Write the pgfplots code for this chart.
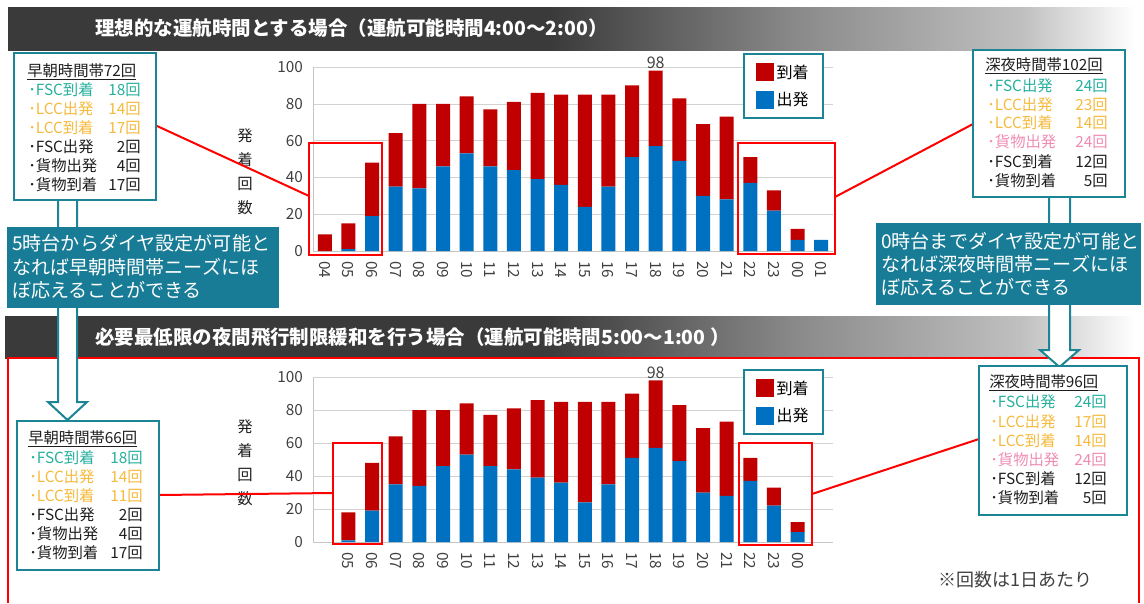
\documentclass[border=0pt]{standalone}
\usepackage{pgfplots}
\pgfplotsset{compat=1.18}
\usepackage{pgfplotstable}
\usepackage{fontspec}
\setmainfont{Noto Sans CJK JP}

\definecolor{arr}{RGB}{192,0,0}
\definecolor{dep}{RGB}{0,112,192}
\definecolor{teal1}{RGB}{27,133,150}
\definecolor{callout}{RGB}{24,124,150}
\definecolor{fsc}{RGB}{38,176,158}
\definecolor{lcc}{RGB}{246,186,60}
\definecolor{cargo}{RGB}{240,140,180}
\definecolor{txt}{RGB}{30,30,30}
\definecolor{hdrA}{RGB}{58,58,58}
\definecolor{hdrB}{RGB}{138,138,138}
\definecolor{hdrC}{RGB}{192,192,192}
\pgfdeclarehorizontalshading{hdr}{100bp}{color(0bp)=(hdrA); color(25bp)=(hdrA); color(49bp)=(hdrA); color(60bp)=(hdrB); color(70bp)=(hdrC); color(75bp)=(white); color(100bp)=(white)}

\newcommand\fs[1]{\fontsize{#1}{#1}\selectfont}
% one line of a count box: x, y, colour, label, count, right edge
\newcommand\bl[6]{%
  \node[anchor=west, text=#3, inner sep=0pt, font=\fs{11.5}] at (#1,#2) {#4};
  \node[anchor=east, text=#3, inner sep=0pt, font=\fs{11.5}] at (#6,#2) {#5};}

% hour index: 04=0, 05=1, ..., 00=20, 01=21
\pgfplotstableread{
x dep arr
0 0 9
1 1 14
2 19 29
3 35 29
4 34 46
5 46 34
6 53 31
7 46 31
8 44 37
9 39 47
10 36 49
11 24 61
12 35 50
13 51 39
14 57 41
15 49 34
16 30 39
17 28 45
18 37 14
19 22 11
20 6 6
21 6 0
}\ideal

\pgfplotstableread{
x dep arr
1 1 17
2 19 29
3 35 29
4 34 46
5 46 34
6 53 31
7 46 31
8 44 37
9 39 47
10 36 49
11 24 61
12 35 50
13 51 39
14 57 41
15 49 34
16 30 39
17 28 45
18 37 14
19 22 11
20 6 6
}\minimal

\pgfplotsset{hourbars/.style={
  scale only axis, width=390pt, clip=false,
  xmin=-0.5, xmax=21.5, ymin=0, ymax=100,
  ybar stacked, bar width=10.5pt,
  ytick={0,20,...,100}, ymajorgrids, grid style={gray!35},
  axis x line=bottom, axis y line=left, axis line style={gray!45,-},
  major tick length=0pt,
  tick label style={font=\fs{11.5}, text=txt!85},
  /pgf/number format/assume math mode=true,
  x tick label style={rotate=-90, anchor=west},
  xticklabel shift=4pt, yticklabel shift=4pt,
  legend style={draw=teal1, line width=1.5pt, font=\fs{12}, anchor=north west,
    row sep=5pt, inner xsep=9pt, inner ysep=6pt},
  legend cell align=left,
  legend image code/.code={\fill[##1, draw=none] (0pt,-6.5pt) rectangle (13.5pt,7pt);},
  reverse legend,
}}

\begin{document}
\begin{tikzpicture}
\begin{scope}[x=0.75pt, y=-0.75pt]
  \useasboundingbox (0,0) rectangle (1144,603);
  \shade[shading=hdr] (8,7) rectangle (1135,50);
  \shade[shading=hdr] (5,316) rectangle (1135,358);
  \node[anchor=west, text=white, font=\bfseries\fs{14.6}, inner sep=0pt] at (95,28)
    {理想的な運航時間とする場合（運航可能時間4:00～2:00）};
  \node[anchor=west, text=white, font=\bfseries\fs{14.6}, inner sep=0pt] at (95,337)
    {必要最低限の夜間飛行制限緩和を行う場合（運航可能時間5:00～1:00 ）};
  \draw[red, line width=1.5pt] (8,603) -- (8,358) -- (1139,358) -- (1139,603);
  \coordinate (A1) at (313,251);
  \coordinate (B1) at (313,542);
\end{scope}

\begin{axis}[hourbars, height=138pt, at={(A1)}, anchor=south west,
  xtick={0,...,21},
  xticklabels={04,05,06,07,08,09,10,11,12,13,14,15,16,17,18,19,20,21,22,23,00,01},
  legend style={at={(0.827,1.076)}}]
  \addplot[fill=dep, draw=none] table[x=x, y=dep] {\ideal};
  \addlegendentry{出発}
  \addplot[fill=arr, draw=none] table[x=x, y=arr] {\ideal};
  \addlegendentry{到着}
  \node[above, font=\fs{12}, text=txt!85, inner sep=1pt] at (axis cs:14,98) {98};
\end{axis}

\begin{axis}[hourbars, height=123.75pt, at={(B1)}, anchor=south west,
  xtick={1,...,20},
  xticklabels={05,06,07,08,09,10,11,12,13,14,15,16,17,18,19,20,21,22,23,00},
  legend style={at={(0.827,1.048)}}]
  \addplot[fill=dep, draw=none] table[x=x, y=dep] {\minimal};
  \addlegendentry{出発}
  \addplot[fill=arr, draw=none] table[x=x, y=arr] {\minimal};
  \addlegendentry{到着}
  \node[above, font=\fs{12}, text=txt!85, inner sep=1pt] at (axis cs:14,98) {98};
\end{axis}

\begin{scope}[x=0.75pt, y=-0.75pt]
  % y labels
  \node[align=center, font=\fontsize{11.5}{18}\selectfont, text=txt] at (245,172) {発\\着\\回\\数};
  \node[align=center, font=\fontsize{11.5}{18}\selectfont, text=txt] at (245,463) {発\\着\\回\\数};

  % red highlights and leader lines
  \begin{scope}[red, line width=1.5pt]
    \draw (309,143) rectangle (382,255);
    \draw (738,143) rectangle (835,254);
    \draw (333,443) rectangle (382,544);
    \draw (739,443) rectangle (812,545);
    \draw (157,126) -- (309,196);
    \draw (835,197) -- (973,124);
    \draw (159,495) -- (333,493);
    \draw (812,494) -- (979,439);
  \end{scope}

  % hollow arrows
  \filldraw[fill=white, draw=teal1, line width=1.5pt]
    (58,200) -- (58,402) -- (48,402) -- (67.5,420) -- (87,402) -- (77,402) -- (77,200);
  \filldraw[fill=white, draw=teal1, line width=1.5pt]
    (1049,197) -- (1049,350) -- (1040,350) -- (1059.5,367) -- (1079,350) -- (1070,350) -- (1070,197);

  % callouts
  \fill[callout] (7,227) rectangle (279,308);
  \fill[callout] (876,223) rectangle (1141,305);
  \begin{scope}[every node/.style={anchor=west, text=white, inner sep=0pt, font=\fs{14.3}}]
    \node at (12,243) {5時台からダイヤ設定が可能と};
    \node at (12,267) {なれば早朝時間帯ニーズにほ};
    \node at (12,290) {ぼ応えることができる};
    \node at (881,241) {0時台までダイヤ設定が可能と};
    \node at (881,264) {なれば深夜時間帯ニーズにほ};
    \node at (881,287) {ぼ応えることができる};
  \end{scope}

  % count boxes
  \filldraw[fill=white, draw=teal1, line width=1.5pt] (14,53) rectangle (156,200);
  \node[anchor=west, inner sep=0pt, font=\fs{11.5}, text=txt] at (27,72) {\underline{早朝時間帯72回}};
  \bl{28}{90}{fsc}{･FSC到着}{18回}{141}
  \bl{28}{109}{lcc}{･LCC出発}{14回}{141}
  \bl{28}{128}{lcc}{･LCC到着}{17回}{141}
  \bl{28}{147}{txt}{･FSC出発}{2回}{141}
  \bl{28}{166}{txt}{･貨物出発}{4回}{141}
  \bl{28}{185}{txt}{･貨物到着}{17回}{141}

  \filldraw[fill=white, draw=teal1, line width=1.5pt] (973,50) rectangle (1125,197);
  \node[anchor=west, inner sep=0pt, font=\fs{11.5}, text=txt] at (985,66) {\underline{深夜時間帯102回}};
  \bl{987}{86}{fsc}{･FSC出発}{24回}{1108}
  \bl{987}{105}{lcc}{･LCC出発}{23回}{1108}
  \bl{987}{123}{lcc}{･LCC到着}{14回}{1108}
  \bl{987}{142}{cargo}{･貨物出発}{24回}{1108}
  \bl{987}{162}{txt}{･FSC到着}{12回}{1108}
  \bl{987}{181}{txt}{･貨物到着}{5回}{1108}

  \filldraw[fill=white, draw=teal1, line width=1.5pt] (17,421) rectangle (159,570);
  \node[anchor=west, inner sep=0pt, font=\fs{11.5}, text=txt] at (28,439) {\underline{早朝時間帯66回}};
  \bl{29}{458}{fsc}{･FSC到着}{18回}{143}
  \bl{29}{477}{lcc}{･LCC出発}{14回}{143}
  \bl{29}{496}{lcc}{･LCC到着}{11回}{143}
  \bl{29}{515}{txt}{･FSC出発}{2回}{143}
  \bl{29}{534}{txt}{･貨物出発}{4回}{143}
  \bl{29}{553}{txt}{･貨物到着}{17回}{143}

  \filldraw[fill=white, draw=teal1, line width=1.5pt] (979,366) rectangle (1127,515);
  \node[anchor=west, inner sep=0pt, font=\fs{11.5}, text=txt] at (989,383) {\underline{深夜時間帯96回}};
  \bl{990}{402}{fsc}{･FSC出発}{24回}{1107}
  \bl{990}{422}{lcc}{･LCC出発}{17回}{1107}
  \bl{990}{441}{lcc}{･LCC到着}{14回}{1107}
  \bl{990}{460}{cargo}{･貨物出発}{24回}{1107}
  \bl{990}{479}{txt}{･FSC到着}{12回}{1107}
  \bl{990}{498}{txt}{･貨物到着}{5回}{1107}

  \node[anchor=west, inner sep=0pt, font=\fs{13.5}, text=txt!85] at (938,580) {※回数は1日あたり};
\end{scope}
\end{tikzpicture}
\end{document}
